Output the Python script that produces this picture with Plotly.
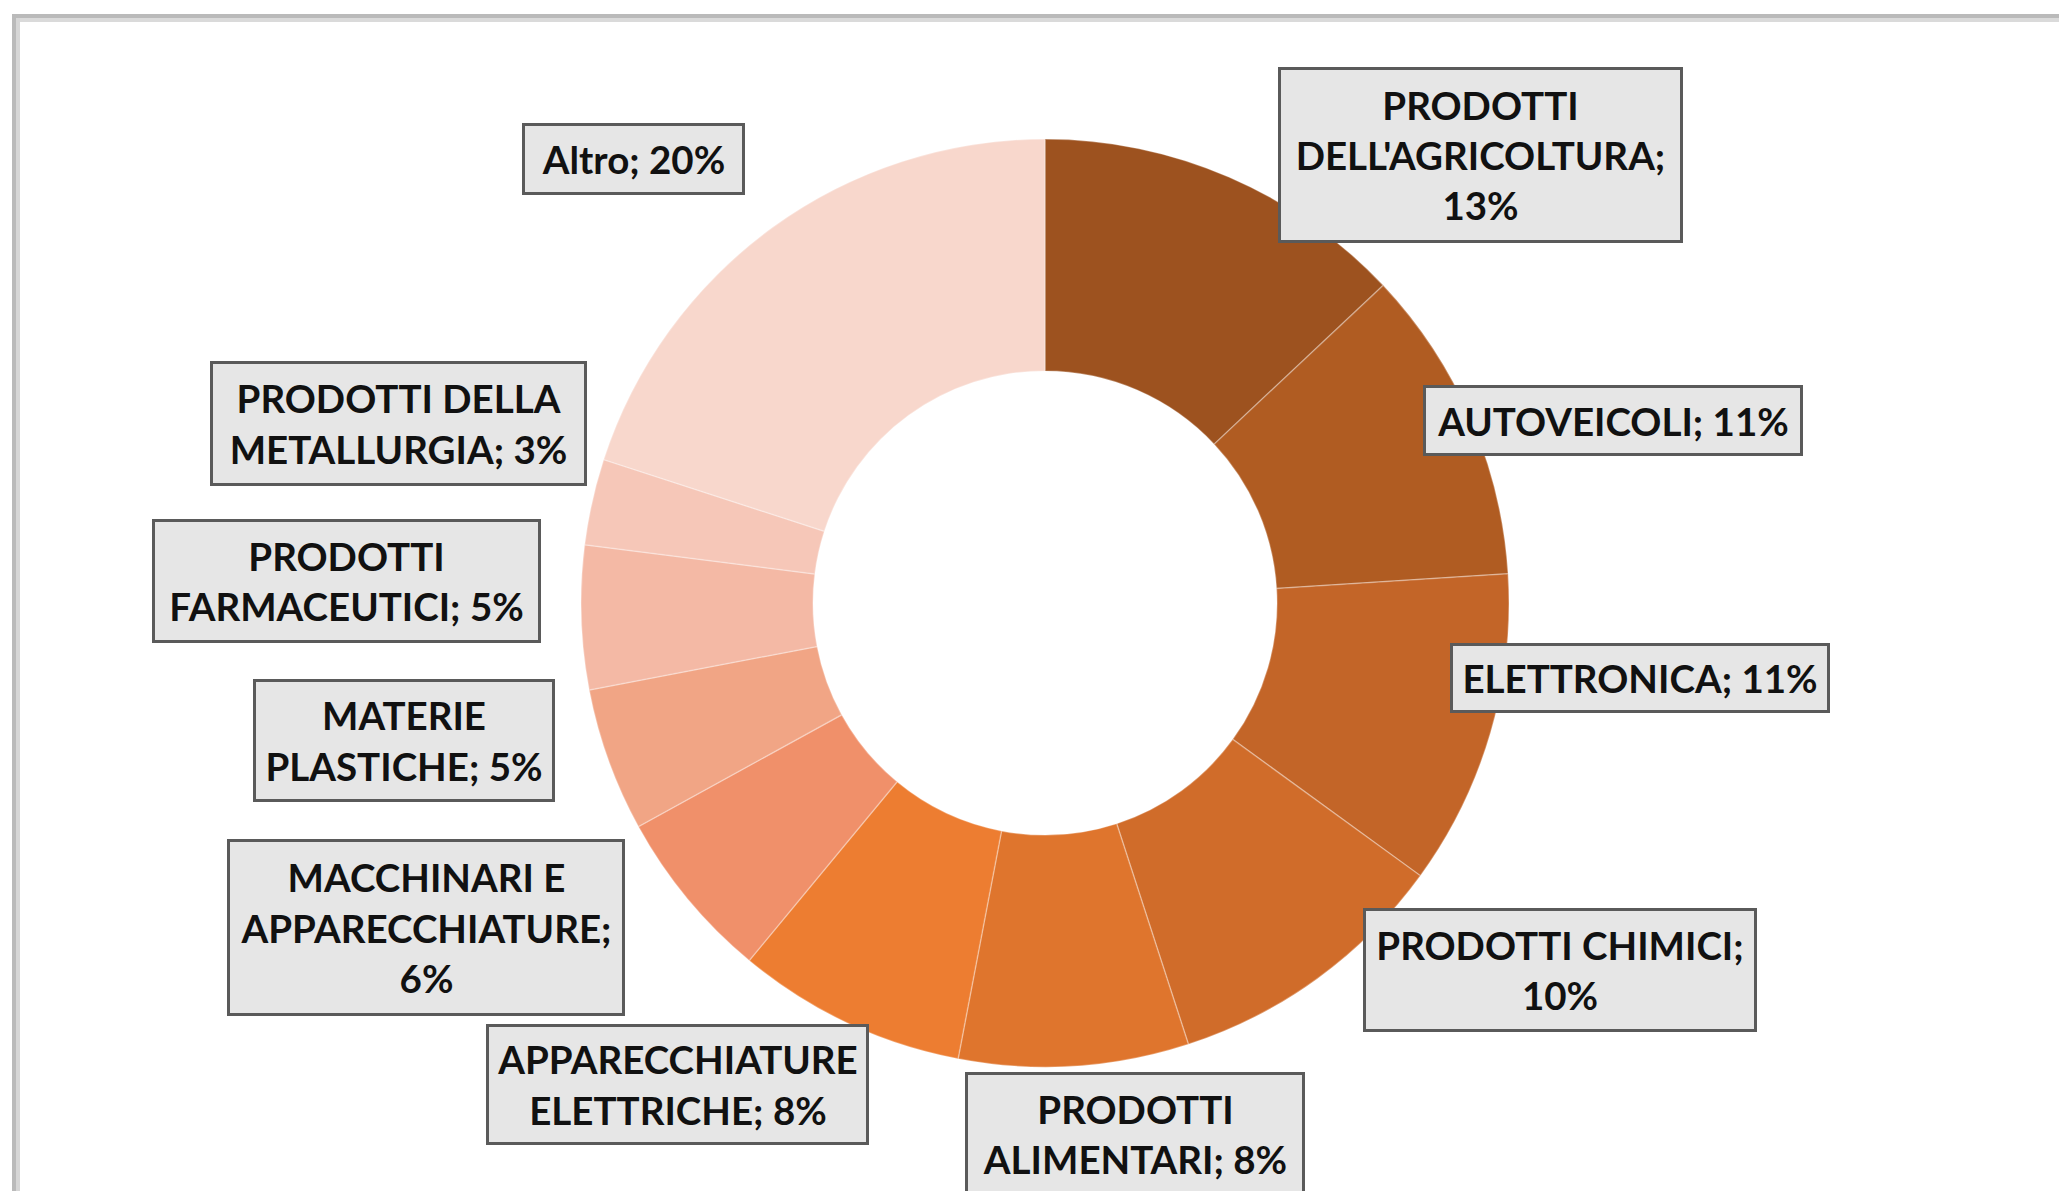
import plotly.graph_objects as go

# ---------------- data ----------------
categories = [
    "PRODOTTI DELL'AGRICOLTURA",
    "AUTOVEICOLI",
    "ELETTRONICA",
    "PRODOTTI CHIMICI",
    "PRODOTTI ALIMENTARI",
    "APPARECCHIATURE ELETTRICHE",
    "MACCHINARI E APPARECCHIATURE",
    "MATERIE PLASTICHE",
    "PRODOTTI FARMACEUTICI",
    "PRODOTTI DELLA METALLURGIA",
    "Altro",
]
shares = [13, 11, 11, 10, 8, 8, 6, 5, 5, 3, 20]

colors = [
    "#9D521F", "#B05C22", "#C36528", "#D06C2A", "#DF752D", "#ED7D31",
    "#F0906A", "#F1A585", "#F4B9A5", "#F6C7B8", "#F8D7CC",
]

# ---------------- layout helpers ----------------
W, H = 2059, 1191
cx, cy, R = 1045, 603, 464  # pie centre / radius in px

# words per line for each label (layout of the text only)
line_words = [[1, 1, 1], [2], [2], [2, 1], [1, 2], [1, 2], [2, 1, 1],
              [1, 2], [1, 2], [2, 2], [2]]
# label boxes (left, top, right, bottom) in px
boxes = [
    (1278, 67, 1683, 243),
    (1423, 385, 1803, 456),
    (1450, 643, 1830, 713),
    (1363, 908, 1757, 1032),
    (965, 1072, 1305, 1196),
    (486, 1024, 869, 1145),
    (227, 839, 625, 1016),
    (253, 679, 555, 802),
    (152, 519, 541, 643),
    (210, 361, 587, 486),
    (522, 123, 745, 195),
]


def wrap(cat, val, counts):
    toks = (f"{cat}; {val}%").split(" ")
    lines, i = [], 0
    for c in counts:
        lines.append(" ".join(toks[i:i + c]))
        i += c
    return "<br>".join(lines)


fig = go.Figure(
    go.Pie(
        labels=categories,
        values=shares,
        hole=0.5,
        sort=False,
        direction="clockwise",
        rotation=0,
        textinfo="none",
        marker=dict(colors=colors, line=dict(color="rgba(255,255,255,0.3)", width=1.5)),
        domain=dict(x=[(cx - R) / W, (cx + R) / W], y=[1 - (cy + R) / H, 1 - (cy - R) / H]),
        showlegend=False,
    )
)

bw = 3
annotations = []
for cat, val, counts, (l, t, r, b) in zip(categories, shares, line_words, boxes):
    annotations.append(dict(
        x=(l + r) / 2 / W, y=1 - (t + b) / 2 / H, xref="paper", yref="paper",
        xanchor="center", yanchor="middle",
        text="<b>" + wrap(cat, val, counts) + "</b>",
        showarrow=False,
        font=dict(family="Lato", size=38.5, color="#111111"),
        bgcolor="#E6E6E6", bordercolor="#5A5A5A", borderwidth=bw, borderpad=0,
        width=(r - l) - 2 * bw, height=(b - t) - 2 * bw,
        align="center", valign="middle",
    ))

shapes = [
    dict(type="line", xref="paper", yref="paper", x0=12 / W, x1=1, y0=1 - 16 / H, y1=1 - 16 / H,
         line=dict(color="#BABABA", width=4)),
    dict(type="line", xref="paper", yref="paper", x0=16 / W, x1=1, y0=1 - 20 / H, y1=1 - 20 / H,
         line=dict(color="#DADADA", width=4)),
    dict(type="line", xref="paper", yref="paper", x0=14 / W, x1=14 / W, y0=0, y1=1 - 14 / H,
         line=dict(color="#BABABA", width=4)),
    dict(type="line", xref="paper", yref="paper", x0=18 / W, x1=18 / W, y0=0, y1=1 - 18 / H,
         line=dict(color="#D6D6D6", width=4)),
]

fig.update_layout(
    width=W, height=H,
    margin=dict(l=0, r=0, t=0, b=0),
    paper_bgcolor="white", plot_bgcolor="white",
    annotations=annotations, shapes=shapes,
)

fig.write_html(
    "out.html",
    config={"displayModeBar": False},
    post_script="document.body.style.margin='0';document.body.style.overflow='hidden';",
)
